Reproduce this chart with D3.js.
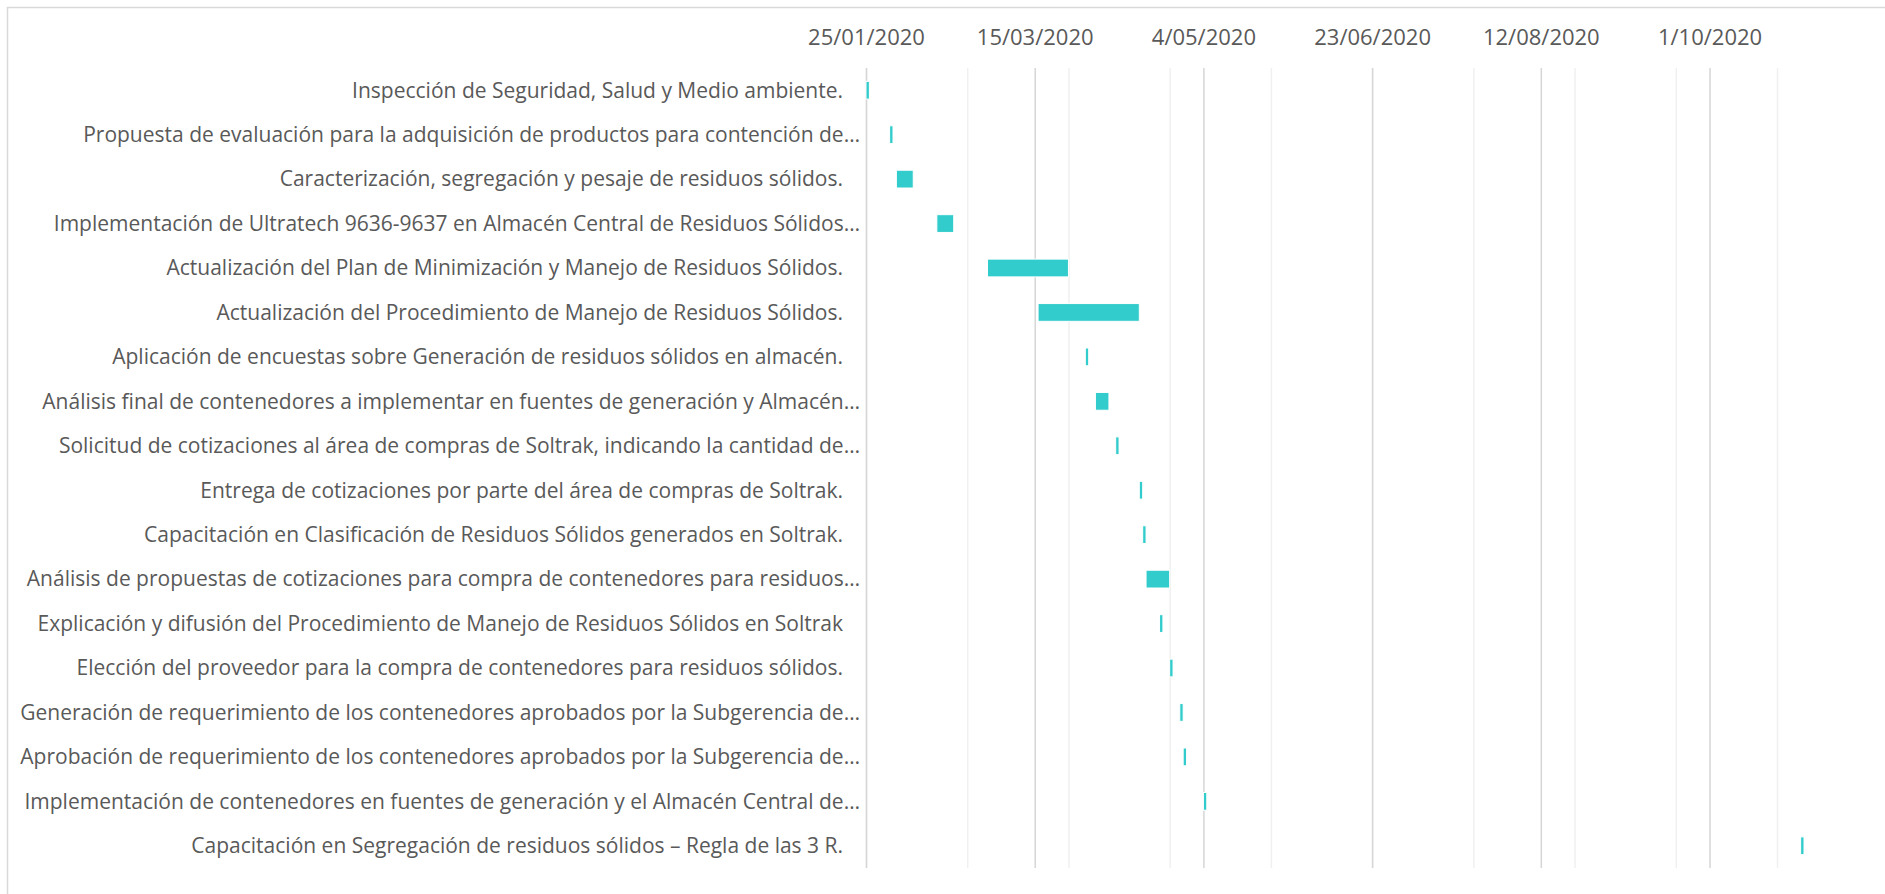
<!DOCTYPE html>
<html>
<head>
<meta charset="utf-8">
<script src="https://cdn.jsdelivr.net/npm/d3@7/dist/d3.min.js"></script>
<style>
  body { margin: 0; background: #ffffff; }
  svg { display: block; }
  text { font-family: "Open Sans", "Noto Sans", sans-serif; fill: #595959; }
</style>
</head>
<body>
<svg id="chart" width="1885" height="894"></svg>
<script>
// Activities of the solid-waste management plan (top to bottom)
const tasks = [
  "Inspección de Seguridad, Salud y Medio ambiente.",
  "Propuesta de evaluación para la adquisición de productos para contención de…",
  "Caracterización, segregación y pesaje de residuos sólidos.",
  "Implementación de Ultratech 9636-9637 en Almacén Central de Residuos Sólidos…",
  "Actualización del Plan de Minimización y Manejo de Residuos Sólidos.",
  "Actualización del Procedimiento de Manejo de Residuos Sólidos.",
  "Aplicación de encuestas sobre Generación de residuos sólidos en almacén.",
  "Análisis final de contenedores a implementar en fuentes de generación y Almacén…",
  "Solicitud de cotizaciones al área de compras de Soltrak, indicando la cantidad de…",
  "Entrega de cotizaciones por parte del área de compras de Soltrak.",
  "Capacitación en Clasificación de Residuos Sólidos generados en Soltrak.",
  "Análisis de propuestas de cotizaciones para compra de contenedores para residuos…",
  "Explicación y difusión del Procedimiento de Manejo de Residuos Sólidos en Soltrak",
  "Elección del proveedor para la compra de contenedores para residuos sólidos.",
  "Generación de requerimiento de los contenedores aprobados por la Subgerencia de…",
  "Aprobación de requerimiento de los contenedores aprobados por la Subgerencia de…",
  "Implementación de contenedores en fuentes de generación y el Almacén Central de…",
  "Capacitación en Segregación de residuos sólidos – Regla de las 3 R."
];

// Start date of each activity
const startDates = [
  "2020-01-25", "2020-02-01", "2020-02-03", "2020-02-15", "2020-03-01", "2020-03-16",
  "2020-03-30", "2020-04-02", "2020-04-08", "2020-04-15", "2020-04-16", "2020-04-17",
  "2020-04-21", "2020-04-24", "2020-04-27", "2020-04-28", "2020-05-04", "2020-10-28"
];

// Duration of each activity, in days
const durations = [1, 1, 5, 5, 24, 30, 1, 4, 1, 1, 1, 7, 1, 1, 1, 1, 1, 1];

// Date axis: range, labelled ticks (every 50 days) and minor grid step (30 days)
const axisStart = "2020-01-25";
const axisEnd = "2020-10-29";
const tickDates = ["2020-01-25", "2020-03-15", "2020-05-04", "2020-06-23", "2020-08-12", "2020-10-01"];
const minorStepDays = 30;

const parse = d3.utcParse("%Y-%m-%d");
const fmt = d3.utcFormat("%-d/%m/%Y");

const svg = d3.select("#chart");
const W = 1885, H = 894;
const plot = { left: 866, right: 1804, top: 68, bottom: 868 };

// chart frame
svg.append("rect")
  .attr("x", 7.5).attr("y", 7.5)
  .attr("width", W).attr("height", H)
  .attr("fill", "#ffffff")
  .attr("stroke", "#d9d9d9")
  .attr("stroke-width", 1.5);

const x = d3.scaleUtc()
  .domain([parse(axisStart), parse(axisEnd)])
  .range([plot.left, plot.right]);

const y = d3.scaleBand()
  .domain(tasks)
  .range([plot.top, plot.bottom])
  .paddingInner(0.6)
  .paddingOuter(0.3);

const plotH = plot.bottom - plot.top;

// minor gridlines
const minorDates = d3.range(0, d3.utcDay.count(parse(axisStart), parse(axisEnd)), minorStepDays)
  .map(d => d3.utcDay.offset(parse(axisStart), d));
svg.append("g")
  .attr("class", "grid-minor")
  .attr("transform", `translate(0,${plot.bottom})`)
  .call(d3.axisBottom(x).tickValues(minorDates).tickSize(-plotH).tickFormat(""))
  .call(g => g.select(".domain").remove())
  .call(g => g.selectAll("line").attr("stroke", "#f0f0f0").attr("stroke-width", 1.5));

// major gridlines
svg.append("g")
  .attr("class", "grid-major")
  .attr("transform", `translate(0,${plot.bottom})`)
  .call(d3.axisBottom(x).tickValues(tickDates.map(parse)).tickSize(-plotH).tickFormat(""))
  .call(g => g.select(".domain").remove())
  .call(g => g.selectAll("line").attr("stroke", "#d6d6d6").attr("stroke-width", 1.5));

// date labels along the top
svg.append("g")
  .attr("class", "axis-top")
  .attr("transform", "translate(0,45)")
  .call(d3.axisTop(x).tickValues(tickDates.map(parse)).tickSize(0).tickPadding(0).tickFormat(fmt))
  .call(g => g.select(".domain").remove())
  .call(g => g.selectAll("text")
    .attr("fill", "#595959")
    .style("font-size", "22px")
    .attr("dy", "0"));

// activity labels
svg.append("g")
  .attr("class", "axis-left")
  .selectAll("text")
  .data(tasks)
  .join("text")
  .attr("x", d => d.endsWith("…") ? plot.left - 6 : plot.left - 23)
  .attr("y", d => y(d) + y.bandwidth() / 2)
  .attr("dy", "0.35em")
  .attr("text-anchor", "end")
  .style("font-size", "21px")
  .text(d => d);

// activity bars
const rows = tasks.map((t, i) => ({
  task: t,
  start: parse(startDates[i]),
  end: d3.utcDay.offset(parse(startDates[i]), durations[i])
}));

svg.append("g")
  .attr("class", "bars")
  .selectAll("rect")
  .data(rows)
  .join("rect")
  .attr("x", d => x(d.start))
  .attr("y", d => y(d.task))
  .attr("width", d => x(d.end) - x(d.start))
  .attr("height", y.bandwidth())
  .attr("fill", "#33cccc")
  .attr("stroke", "#ffffff")
  .attr("stroke-width", 1);
</script>
</body>
</html>
